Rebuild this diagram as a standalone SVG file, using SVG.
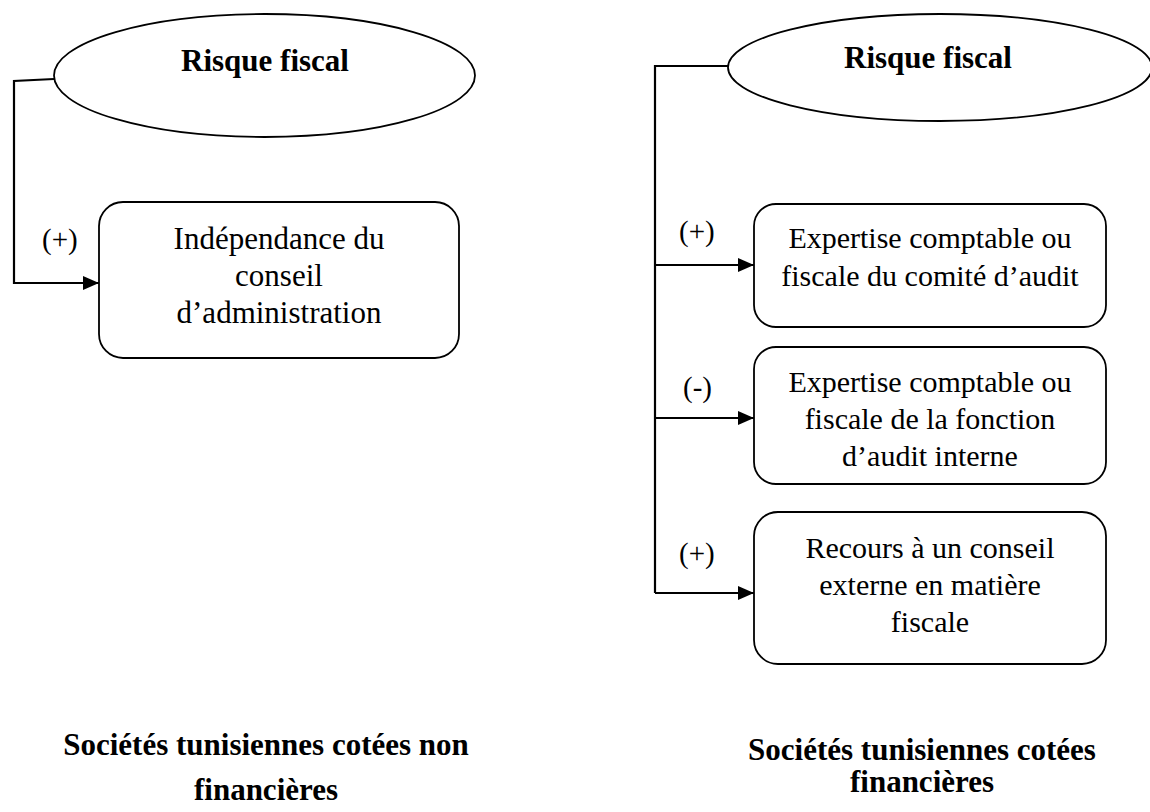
<svg xmlns="http://www.w3.org/2000/svg" width="1150" height="812" viewBox="0 0 1150 812">
<defs>
<style>
.shape{fill:#fff;stroke:#000;stroke-width:1.8}
.conn{fill:none;stroke:#000;stroke-width:2.2}
.t{font-family:"Liberation Serif","Times New Roman",serif;font-size:30px;fill:#000;text-anchor:middle}
.b{font-family:"Liberation Serif","Times New Roman",serif;font-size:31px;font-weight:bold;fill:#000;text-anchor:middle}
.lbl{font-family:"Liberation Serif","Times New Roman",serif;font-size:29px;fill:#000}
</style>
<marker id="arr" markerUnits="userSpaceOnUse" markerWidth="18" markerHeight="16" refX="16" refY="7" orient="auto">
<path d="M0,0 L16,7 L0,14 z" fill="#000"/>
</marker>
</defs>
<rect width="1150" height="812" fill="#fff"/>

<g id="connectors">
<polyline class="conn" points="54,79 14,81 14,283 99,283" marker-end="url(#arr)"/>
<polyline class="conn" points="728,66 655,66 655,593"/>
<line class="conn" x1="655" y1="265" x2="754" y2="265" marker-end="url(#arr)"/>
<line class="conn" x1="655" y1="418" x2="754" y2="418" marker-end="url(#arr)"/>
<polyline class="conn" points="655,593 754,593" marker-end="url(#arr)"/>
<text class="lbl" x="42" y="249">(+)</text>
<text class="lbl" x="679" y="241">(+)</text>
<text class="lbl" x="683" y="397">(-)</text>
<text class="lbl" x="679" y="563">(+)</text>
</g>

<g id="risk-left">
<ellipse class="shape" cx="264.5" cy="75.5" rx="210.5" ry="61.5"/>
<text class="b" x="265" y="71">Risque fiscal</text>
</g>

<g id="board-independence">
<rect class="shape" x="99" y="202" width="360" height="156" rx="24" ry="24"/>
<text class="t" x="279" y="249" style="font-size:31px">Indépendance du</text>
<text class="t" x="279" y="286" style="font-size:31px">conseil</text>
<text class="t" x="279" y="323" style="font-size:31px">d’administration</text>
</g>

<g id="risk-right">
<ellipse class="shape" cx="940" cy="67.5" rx="212" ry="53.5"/>
<text class="b" x="928" y="68">Risque fiscal</text>
</g>

<g id="audit-committee">
<rect class="shape" x="754" y="204" width="352" height="123" rx="22" ry="22"/>
<text class="t" x="930" y="248">Expertise comptable ou</text>
<text class="t" x="930" y="286">fiscale du comité d’audit</text>
</g>

<g id="internal-audit">
<rect class="shape" x="754" y="347" width="352" height="137" rx="22" ry="22"/>
<text class="t" x="930" y="392">Expertise comptable ou</text>
<text class="t" x="930" y="429">fiscale de la fonction</text>
<text class="t" x="930" y="466">d’audit interne</text>
</g>

<g id="external-advice">
<rect class="shape" x="754" y="512" width="352" height="152" rx="24" ry="24"/>
<text class="t" x="930" y="558">Recours à un conseil</text>
<text class="t" x="930" y="595">externe en matière</text>
<text class="t" x="930" y="632">fiscale</text>
</g>

<g id="caption-left">
<text class="b" x="266" y="755">Sociétés tunisiennes cotées non</text>
<text class="b" x="266" y="800">financières</text>
</g>

<g id="caption-right">
<text class="b" x="922" y="760">Sociétés tunisiennes cotées</text>
<text class="b" x="922" y="792">financières</text>
</g>
</svg>
